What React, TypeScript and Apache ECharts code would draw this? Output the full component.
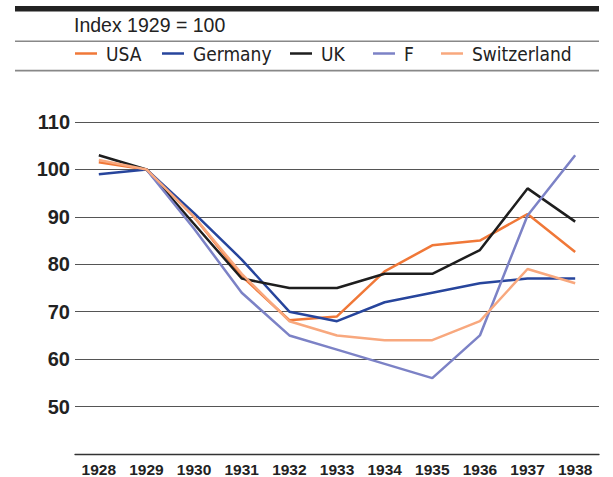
import React, { useEffect, useRef } from "react";
import * as echarts from "echarts";

const years = ["1928", "1929", "1930", "1931", "1932", "1933", "1934", "1935", "1936", "1937", "1938"];
const usa = [101.5, 100, 90, 77.5, 68.2, 69, 78.5, 84, 85, 90.6, 82.6];
const germany = [99, 100, 90.8, 81, 70, 68, 72, 74, 76, 77, 77];
const uk = [103, 100, 88.5, 77, 75, 75, 78, 78, 83, 96, 89];
const france = ["-", 100, 87.5, 74, 65, 62, 59, 56, 65, 90.3, 103];
const switzerland = [102, 100, 90, 78, 68, 65, 64, 64, 68, 79, 76];

const seriesNames = ["USA", "Germany", "UK", "F", "Switzerland"];
const seriesColors = ["#f07838", "#27459c", "#1e1e1e", "#7c82c6", "#f8a87e"];
const seriesData = [usa, germany, uk, france, switzerland];
const legendLefts = [75, 162, 290, 373, 441];

const yTicks = { min: 40, max: 110, interval: 10 };
const subtitle = "Index 1929 = 100";

const narrow = "'Liberation Sans Narrow', 'DejaVu Sans Condensed', sans-serif";
const sans = "'Liberation Sans', Arial, sans-serif";

export default function App() {
  const ref = useRef<HTMLDivElement>(null);
  useEffect(() => {
    if (!ref.current) return;
    const chart = echarts.init(ref.current, null, { renderer: "svg" });
    chart.setOption({
      animation: false,
      backgroundColor: "#ffffff",
      title: {
        text: subtitle,
        left: 74,
        top: 14,
        padding: 0,
        textStyle: { fontFamily: sans, fontSize: 19.5, fontWeight: "normal", color: "#222", lineHeight: 22 },
      },
      legend: seriesNames.map((n, i) => ({
        data: [n],
        left: legendLefts[i],
        top: 44,
        padding: 0,
        icon: "rect",
        itemWidth: 22,
        itemHeight: 2.5,
        textStyle: { fontFamily: narrow, fontSize: 19, color: "#222", padding: [0, 0, 0, 4], lineHeight: 19 },
      })),
      graphic: [
        { type: "rect", shape: { x: 15, y: 6, width: 584, height: 5.5 }, style: { fill: "#222" } },
        { type: "rect", shape: { x: 15, y: 40.5, width: 584, height: 1.6 }, style: { fill: "#888" } },
        { type: "rect", shape: { x: 15, y: 69.8, width: 584, height: 1.6 }, style: { fill: "#888" } },
      ],
      grid: { left: 75, right: 14, top: 122, bottom: 18, containLabel: false },
      xAxis: {
        type: "category",
        data: years,
        boundaryGap: true,
        axisLine: { lineStyle: { color: "#333", width: 1.3 } },
        axisTick: { inside: true, length: 6, lineStyle: { color: "#333", width: 1.2 } },
        axisLabel: { margin: 7, fontFamily: sans, fontWeight: "bold", fontSize: 15.5, color: "#222" },
      },
      yAxis: {
        type: "value",
        min: yTicks.min,
        max: yTicks.max,
        interval: yTicks.interval,
        axisLine: { show: false },
        axisTick: { show: false },
        axisLabel: {
          margin: 5,
          fontFamily: sans,
          fontWeight: "bold",
          fontSize: 20,
          color: "#222",
          formatter: (v: number) => (v === yTicks.min ? "" : String(v)),
        },
        splitLine: { lineStyle: { color: "#555", width: 1.2 } },
      },
      series: seriesNames.map((n, i) => ({
        name: n,
        type: "line",
        data: seriesData[i],
        color: seriesColors[i],
        symbol: "none",
        lineStyle: { width: 2.5, color: seriesColors[i] },
      })),
    });
    return () => chart.dispose();
  }, []);
  return <div ref={ref} style={{ position: "fixed", left: 0, top: 0, width: 613, height: 477 }} />;
}
